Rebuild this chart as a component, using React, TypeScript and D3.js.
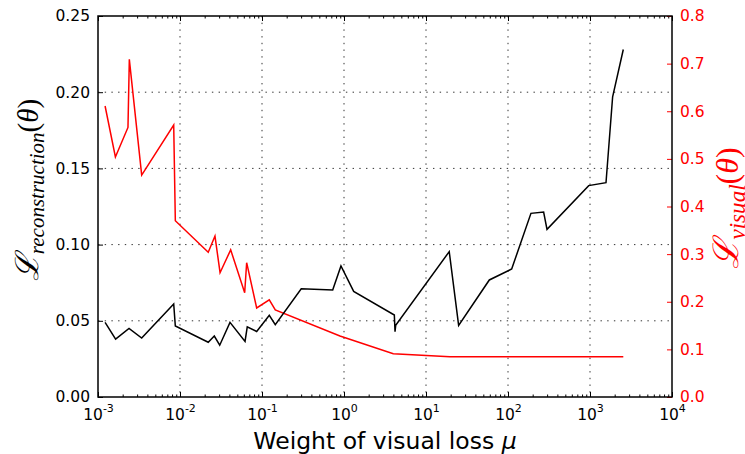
import React, { useEffect, useRef } from "react";
import * as d3 from "d3";

// black series (left axis): reconstruction loss vs weight mu
const muRecon = [
  0.00122, 0.00164, 0.00239, 0.00341, 0.00838, 0.00877, 0.0221, 0.0262, 0.0305,
  0.0407, 0.0621, 0.0661, 0.0861, 0.1227, 0.1452, 0.301, 0.728, 0.918, 1.312,
  4.11, 4.19, 4.27, 19.2, 25.0, 59.2, 110.9, 190.5, 272, 299, 964, 1567, 1888, 2547,
];
const lossRecon = [
  0.049, 0.038, 0.045, 0.0387, 0.061, 0.0466, 0.0359, 0.04, 0.034, 0.049, 0.0365,
  0.046, 0.043, 0.0536, 0.0475, 0.071, 0.0702, 0.086, 0.0693, 0.0538, 0.0429,
  0.047, 0.0954, 0.047, 0.0768, 0.084, 0.1205, 0.1214, 0.11, 0.1387, 0.1406,
  0.197, 0.228,
];

// red series (right axis): visual loss
const muVisual = [
  0.00122, 0.00163, 0.00232, 0.00241, 0.00341, 0.00838, 0.00877, 0.0221, 0.0267,
  0.0308, 0.0415, 0.0615, 0.065, 0.0861, 0.1227, 0.1452, 0.893, 3.99, 19.6, 95.5,
  2547,
];
const lossVisual = [
  0.611, 0.504, 0.566, 0.709, 0.466, 0.571, 0.37, 0.304, 0.338, 0.261, 0.309,
  0.219, 0.282, 0.187, 0.204, 0.183, 0.128, 0.091, 0.0847, 0.0845, 0.0845,
];

const xTicks = [1e-3, 1e-2, 1e-1, 1e0, 1e1, 1e2, 1e3, 1e4];
const xExponents = ["-3", "-2", "-1", "0", "1", "2", "3", "4"];
const leftTicks = [0, 0.05, 0.1, 0.15, 0.2, 0.25];
const rightTicks = [0, 0.1, 0.2, 0.3, 0.4, 0.5, 0.6, 0.7, 0.8];

const App = () => {
  const ref = useRef<SVGSVGElement>(null);

  useEffect(() => {
    const width = 745;
    const height = 454;
    const m = { left: 98, right: 672, top: 16, bottom: 397 };
    const svg = d3.select(ref.current);
    svg.selectAll("*").remove();

    const x = d3.scaleLog().domain([1e-3, 1e4]).range([m.left, m.right]);
    const yL = d3.scaleLinear().domain([0, 0.25]).range([m.bottom, m.top]);
    const yR = d3.scaleLinear().domain([0, 0.8]).range([m.bottom, m.top]);

    const minor: number[] = [];
    for (let e = -3; e < 4; e++) {
      for (let k = 2; k < 10; k++) minor.push(k * Math.pow(10, e));
    }

    // grid
    const grid = svg.append("g").attr("stroke", "#333").attr("stroke-width", 1)
      .attr("stroke-dasharray", "1.4,5.3");
    grid.selectAll("line.gx").data(xTicks.slice(1, -1)).enter().append("line")
      .attr("x1", (d) => x(d)).attr("x2", (d) => x(d))
      .attr("y1", m.top).attr("y2", m.bottom);
    grid.selectAll("line.gy").data(leftTicks.slice(1, -1)).enter().append("line")
      .attr("x1", m.left).attr("x2", m.right)
      .attr("y1", (d) => yL(d)).attr("y2", (d) => yL(d));

    // lines
    const lineR = d3.line<number>().x((d, i) => x(muRecon[i])).y((d) => yL(d));
    const lineV = d3.line<number>().x((d, i) => x(muVisual[i])).y((d) => yR(d));
    svg.append("path").attr("d", lineV(lossVisual)).attr("fill", "none")
      .attr("stroke", "#ff0000").attr("stroke-width", 1.5);
    svg.append("path").attr("d", lineR(lossRecon)).attr("fill", "none")
      .attr("stroke", "#000").attr("stroke-width", 1.5);

    const styleAxis = (g: any, color: string) => {
      g.select(".domain").remove();
      g.selectAll("line").attr("stroke", color).attr("stroke-width", 1);
      g.selectAll("text").attr("fill", color).attr("font-size", 15.5)
        .attr("font-family", "DejaVu Sans");
    };

    // bottom axis
    const bx = svg.append("g").attr("transform", `translate(0,${m.bottom})`)
      .call(d3.axisBottom(x).tickValues(xTicks).tickSize(-5).tickSizeOuter(0)
        .tickFormat(() => ""));
    styleAxis(bx, "#000");
    bx.selectAll(".tick text").remove();
    bx.selectAll(".tick").append("text")
      .attr("y", 22.5).attr("text-anchor", "middle").attr("fill", "#000")
      .attr("font-family", "DejaVu Sans").attr("font-size", 15.5)
      .each(function (d, i) {
        const t = d3.select(this);
        t.append("tspan").text("10");
        t.append("tspan").attr("font-size", 11).attr("dy", -8).text(xExponents[i]);
      });
    const bxm = svg.append("g").attr("transform", `translate(0,${m.bottom})`)
      .call(d3.axisBottom(x).tickValues(minor).tickSize(-2.5).tickSizeOuter(0)
        .tickFormat(() => ""));
    styleAxis(bxm, "#000");

    // top axis
    const tx = svg.append("g").attr("transform", `translate(0,${m.top})`)
      .call(d3.axisTop(x).tickValues(xTicks).tickSize(-5).tickSizeOuter(0)
        .tickFormat(() => ""));
    styleAxis(tx, "#000");
    const txm = svg.append("g").attr("transform", `translate(0,${m.top})`)
      .call(d3.axisTop(x).tickValues(minor).tickSize(-2.5).tickSizeOuter(0)
        .tickFormat(() => ""));
    styleAxis(txm, "#000");

    // left axis
    const ly = svg.append("g").attr("transform", `translate(${m.left},0)`)
      .call(d3.axisLeft(yL).tickValues(leftTicks).tickSize(-5).tickSizeOuter(0)
        .tickPadding(8).tickFormat(d3.format(".2f")));
    styleAxis(ly, "#000");

    // right axis
    const ry = svg.append("g").attr("transform", `translate(${m.right},0)`)
      .call(d3.axisRight(yR).tickValues(rightTicks).tickSize(-5).tickSizeOuter(0)
        .tickPadding(8).tickFormat(d3.format(".1f")));
    styleAxis(ry, "#ff0000");

    // spines
    svg.append("rect").attr("x", m.left).attr("y", m.top)
      .attr("width", m.right - m.left).attr("height", m.bottom - m.top)
      .attr("fill", "none").attr("stroke", "#000").attr("stroke-width", 1.5);

    // x label
    const xl = svg.append("text").attr("x", 385).attr("y", 449)
      .attr("text-anchor", "middle").attr("font-family", "DejaVu Sans")
      .attr("font-size", 23.5).attr("fill", "#000");
    xl.append("tspan").text("Weight of visual loss ");
    xl.append("tspan").attr("font-style", "italic").text("μ");

    // y labels
    const yLabel = (cx: number, cy: number, sub: string, color: string, s: number) => {
      const t = svg.append("text")
        .attr("transform", `translate(${cx},${cy}) rotate(-90)`)
        .attr("text-anchor", "middle").attr("fill", color)
        .attr("font-family", "DejaVu Serif");
      t.append("tspan").attr("font-size", 32 * s).attr("font-style", "italic").text("ℒ");
      t.append("tspan").attr("font-size", 21 * s).attr("font-style", "italic")
        .attr("font-family", "Liberation Serif").attr("dy", 6 * s).text(sub);
      t.append("tspan").attr("font-size", 29 * s).attr("dy", -6 * s)
        .attr("font-family", "Liberation Serif").text("(");
      t.append("tspan").attr("font-size", 29 * s).attr("font-style", "italic")
        .attr("font-family", "Liberation Serif").text("θ");
      t.append("tspan").attr("font-size", 29 * s)
        .attr("font-family", "Liberation Serif").text(")");
    };
    yLabel(38, 190, "reconstruction", "#000", 1);
    yLabel(738, 208, "visual", "#ff0000", 1.1);

    svg.attr("width", width).attr("height", height);
  }, []);

  return (
    <svg
      ref={ref}
      width={745}
      height={454}
      style={{ position: "absolute", left: 0, top: 0, background: "#fff" }}
    ></svg>
  );
};

export default App;
